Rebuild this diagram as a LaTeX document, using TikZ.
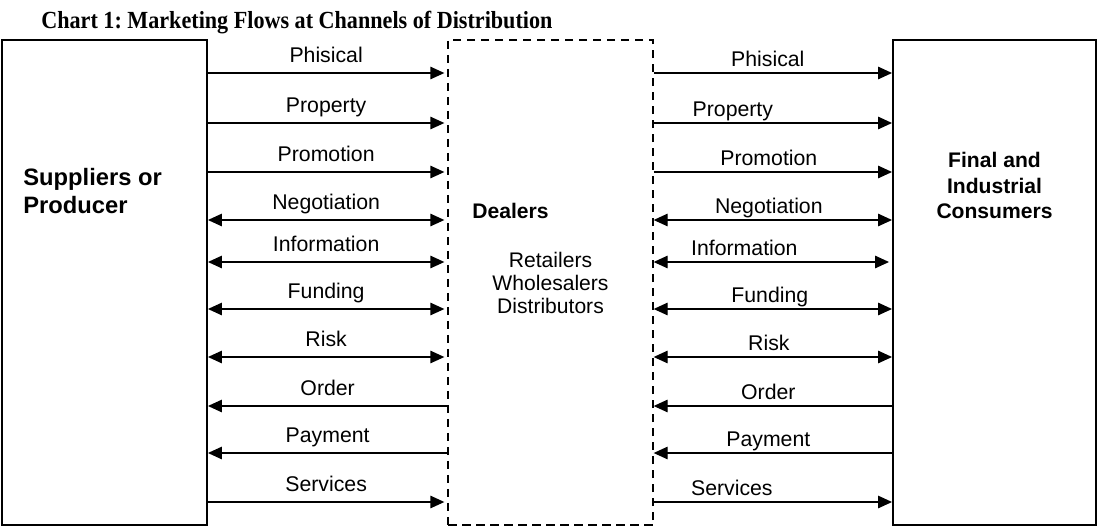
\documentclass[tikz,border=0pt]{standalone}
\usepackage{fontspec}
\setmainfont{Liberation Serif}
\setsansfont{Liberation Sans}
\newfontfamily\headfont[FakeStretch=0.9]{Liberation Serif}
\usetikzlibrary{arrows.meta, positioning}
\frenchspacing
\tikzset{
	party/.style  ={rectangle, draw=black, line width=1.1pt, minimum width=4.1cm, minimum height=9.7cm, inner sep=0pt},
	dealer/.style ={party, line width=0.75pt, dash pattern=on 0.17cm off 0.11cm},
	fwd/.style    ={line width=0.75pt, -{Triangle[length=0.28cm, width=0.25cm]}},
	back/.style   ={line width=0.75pt, {Triangle[length=0.28cm, width=0.25cm]}-},
	both/.style   ={line width=0.75pt, {Triangle[length=0.28cm, width=0.25cm]}-{Triangle[length=0.28cm, width=0.25cm]}},
	lflow/.style  ={font=\fontsize{12.1}{14}\sffamily, anchor=base, inner sep=0pt, yshift=0.21cm},
	rflow/.style  ={font=\fontsize{12.1}{14}\sffamily, anchor=base, inner sep=0pt, yshift=0.13cm},
	who/.style    ={font=\fontsize{12}{14.2}\sffamily\bfseries, inner sep=0pt, align=center},
}
\begin{document}
\begin{tikzpicture}
	\useasboundingbox (0,0) rectangle (21.96,10.58);
	\node[font=\fontsize{14}{16}\headfont\bfseries, anchor=base west, inner sep=0pt] (title) at (0.82,10.02) {Chart 1: Marketing Flows at Channels of Distribution};
	% the three parties of the channel
	\node[party] (sup) at (2.09,4.93) {};
	\node[dealer] (deal) at (11.01,4.93) {};
	\node[party, minimum width=4.06cm] (cons) at (19.89,4.93) {};
	\node[who, font=\fontsize{13.5}{16.2}\sffamily\bfseries, align=left, anchor=west] (suptxt) at (0.46,6.76) {Suppliers or\\Producer};
	\node[who, anchor=base west] (dealtxt) at (9.44,6.22) {Dealers};
	\node[who, font=\fontsize{12}{13.1}\sffamily] (kinds) at (deal) {Retailers\\Wholesalers\\Distributors};
	\node[who, font=\fontsize{12}{14.4}\sffamily\bfseries] (constxt) at ([yshift=1.94cm]cons.center) {Final and\\Industrial\\Consumers};
	% one row per flow
	\coordinate (phy) at (0,9.12); \coordinate (prop) at (0,8.12); \coordinate (promo) at (0,7.14); \coordinate (nego) at (0,6.18); \coordinate (info) at (0,5.34);
	\coordinate (fund) at (0,4.40); \coordinate (risk) at (0,3.44); \coordinate (order) at (0,2.46); \coordinate (pay) at (0,1.52); \coordinate (serv) at (0,0.54);
	% producer -- dealers
	\draw[fwd] (sup.east |- phy) -- ([xshift=-0.06cm]deal.west |- phy) node[lflow, midway] {Phisical};
	\draw[fwd] (sup.east |- prop) -- ([xshift=-0.06cm]deal.west |- prop) node[lflow, midway] {Property};
	\draw[fwd] (sup.east |- promo) -- ([xshift=-0.06cm]deal.west |- promo) node[lflow, midway] {Promotion};
	\draw[both] (sup.east |- nego) -- ([xshift=-0.06cm]deal.west |- nego) node[lflow, midway] {Negotiation};
	\draw[both] (sup.east |- info) -- ([xshift=-0.06cm]deal.west |- info) node[lflow, midway] {Information};
	\draw[both] (sup.east |- fund) -- ([xshift=-0.06cm]deal.west |- fund) node[lflow, midway] {Funding};
	\draw[both] (sup.east |- risk) -- ([xshift=-0.06cm]deal.west |- risk) node[lflow, midway] {Risk};
	\draw[back] (sup.east |- order) -- (deal.west |- order) node[lflow, midway] {Order};
	\draw[back] (sup.east |- pay) -- (deal.west |- pay) node[lflow, midway] {Payment};
	\draw[fwd] (sup.east |- serv) -- ([xshift=-0.06cm]deal.west |- serv) node[lflow, midway] {Services};
	% dealers -- consumers
	\draw[fwd] (deal.east |- phy) -- (cons.west |- phy) node[rflow, midway, xshift=-0.1cm] {Phisical};
	\draw[fwd] (deal.east |- prop) -- (cons.west |- prop) node[rflow, midway, xshift=-0.8cm] {Property};
	\draw[fwd] (deal.east |- promo) -- (cons.west |- promo) node[rflow, midway, xshift=-0.08cm] {Promotion};
	\draw[both] (deal.east |- nego) -- (cons.west |- nego) node[rflow, midway, xshift=-0.08cm] {Negotiation};
	\draw[both] (deal.east |- info) -- ([xshift=-0.06cm]cons.west |- info) node[rflow, midway, xshift=-0.54cm] {Information};
	\draw[both] (deal.east |- fund) -- (cons.west |- fund) node[rflow, midway, xshift=-0.06cm] {Funding};
	\draw[both] (deal.east |- risk) -- (cons.west |- risk) node[rflow, midway, xshift=-0.08cm] {Risk};
	\draw[back] (deal.east |- order) -- (cons.west |- order) node[rflow, midway, xshift=-0.09cm] {Order};
	\draw[back] (deal.east |- pay) -- (cons.west |- pay) node[rflow, midway, xshift=-0.09cm] {Payment};
	\draw[fwd] (deal.east |- serv) -- (cons.west |- serv) node[rflow, midway, xshift=-0.82cm] {Services};
\end{tikzpicture}
\end{document}
